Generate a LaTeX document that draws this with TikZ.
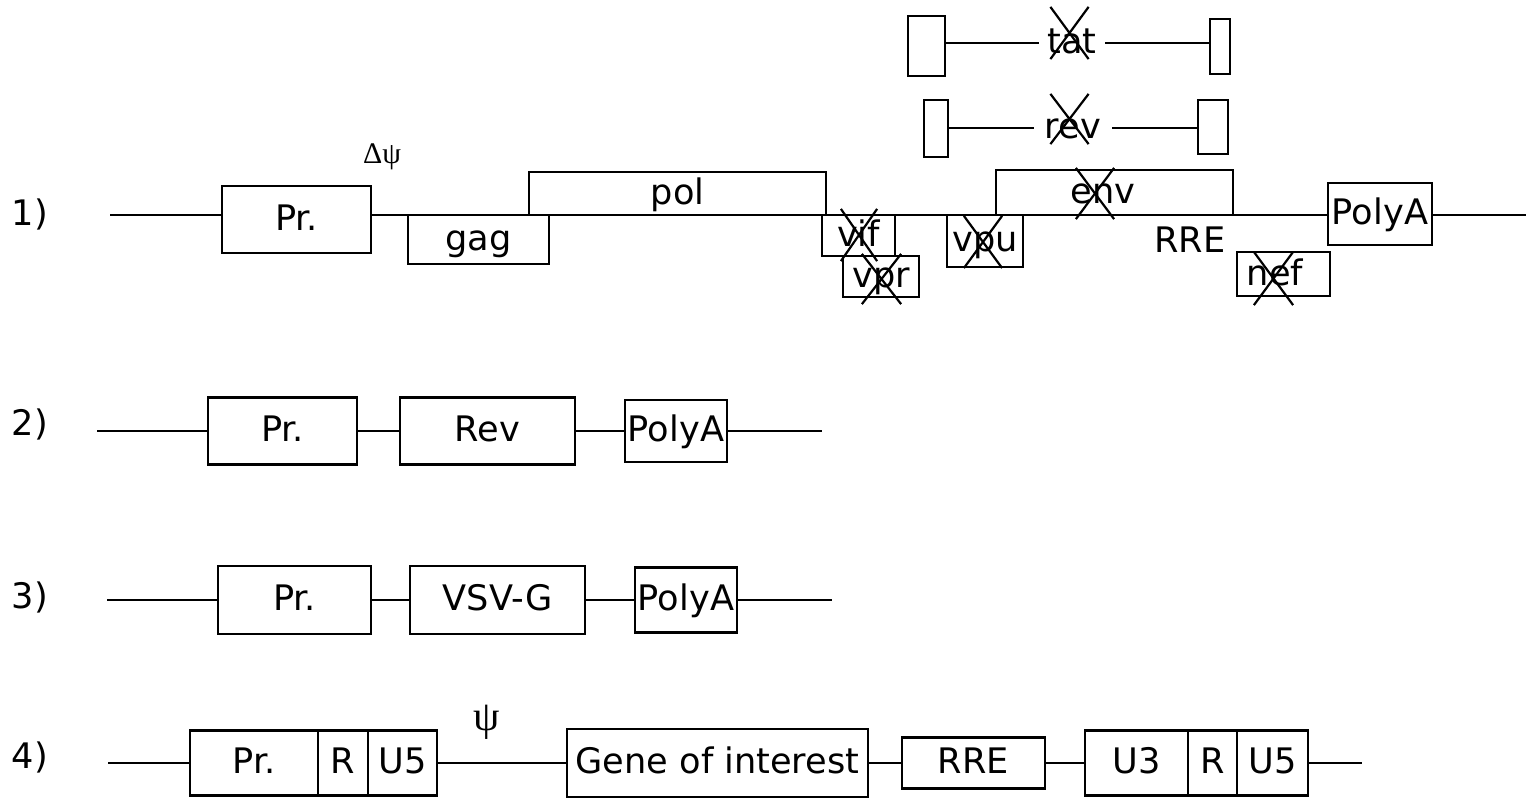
\documentclass[tikz,border=0pt]{standalone}
\usepackage{fontspec}
\setmainfont{DejaVu Sans}
\newfontfamily\greekfont{Liberation Serif}
\usetikzlibrary{shapes.misc}

\begin{document}
\begin{tikzpicture}[
    x=0.2mm,
    y=-0.2mm,
    line width=1.25pt,
    font=\fontsize{20}{24}\selectfont,
    segment/.style={
        draw,
        fill=white,
        inner sep=0pt,
        text height=14pt,
        text depth=2pt
    },
    plain/.style={
        inner sep=0pt,
        text height=14pt,
        text depth=2pt
    },
    rowlabel/.style={
        plain
    },
    deleted/.style={
        cross out,
        draw,
        inner sep=0pt,
        minimum width=7.2mm,
        minimum height=10mm
    }
]
    \path[use as bounding box,fill=white] (0,0) rectangle (1526,798);

    % 1) provirus
    \node[rowlabel] (num-1) at (30,215) {1)};
    \coordinate (r1-start) at (110,215);
    \coordinate (r1-end) at (1526,215);
    \draw (r1-start) -- (r1-end);

    \node[segment, minimum width=29.8mm, minimum height=13.4mm] (pr-1) at (296.5,219.5) {Pr.};
    \node[font=\greekfont\fontsize{17}{19}\selectfont] (dpsi) at (382,157) {Δψ};
    \node[segment, minimum width=28.2mm, minimum height=9.8mm] (gag) at (478.5,239.5) {gag};
    \node[segment, minimum width=59.4mm, minimum height=8.6mm] (pol) at (677.5,193.5) {pol};
    \node[segment, minimum width=14.6mm, minimum height=8.2mm] (vif) at (858.5,235.5) {vif};
    \node[segment, minimum width=15.2mm, minimum height=8.2mm] (vpr) at (881,276.5) {vpr};
    \node[segment, minimum width=15.2mm, minimum height=10.4mm] (vpu) at (985,241) {vpu};
    \node[segment, minimum width=47.4mm, minimum height=9mm] (env) at (1114.5,192.5) {};
    \node[plain] (env-text) at (1103,193) {env};
    \node[plain] (rre-1) at (1190,242) {RRE};
    \node[segment, minimum width=18.6mm, minimum height=8.8mm] (nef) at (1283.5,274) {};
    \node[plain] (nef-text) at (1275,275) {nef};
    \node[segment, minimum width=20.8mm, minimum height=12.4mm] (polya-1) at (1380,214) {PolyA};

    % spliced tat and rev
    \node[segment, minimum width=7.4mm, minimum height=12mm] (tat-l) at (926.5,46) {};
    \node[segment, minimum width=4mm, minimum height=11mm] (tat-r) at (1220,46.5) {};
    \node[plain, inner xsep=1.5mm] (tat) at (1072,43) {tat};
    \draw (tat-l.east |- tat) -- (tat);
    \draw (tat) -- (tat -| tat-r.west);

    \node[segment, minimum width=4.8mm, minimum height=11.4mm] (rev-l) at (936,128.5) {};
    \node[segment, minimum width=6mm, minimum height=10.8mm] (rev-r) at (1213,127) {};
    \node[plain, inner xsep=2mm] (rev) at (1073,128) {rev};
    \draw (rev-l.east |- rev) -- (rev);
    \draw (rev) -- (rev -| rev-r.west);

    % crossed out genes
    \node[deleted] (tat-x) at (1069.5,33) {};
    \node[deleted, minimum height=9.6mm] (rev-x) at (1069.5,119) {};
    \node[deleted, minimum width=6.8mm] (vif-x) at (859,235) {};
    \node[deleted, minimum width=7.4mm, minimum height=9.6mm] (vpr-x) at (881.5,279) {};
    \node[deleted] (vpu-x) at (983,242) {};
    \node[deleted, minimum height=9.8mm] (env-x) at (1095,193.5) {};
    \node[deleted, minimum width=7.4mm, minimum height=10.2mm] (nef-x) at (1273.5,278.5) {};

    % 2) rev plasmid
    \node[rowlabel] (num-2) at (30,425) {2)};
    \coordinate (r2-start) at (97,431);
    \node[segment, minimum width=29.8mm, minimum height=13.4mm] (pr-2) at (282.5,431) {Pr.};
    \node[segment, minimum width=35mm, minimum height=13.4mm] (rev-2) at (487.5,431) {Rev};
    \node[segment, minimum width=20.4mm, minimum height=12.4mm] (polya-2) at (676,431) {PolyA};
    \coordinate (r2-end) at (822,431);
    \draw (r2-start) -- (pr-2);
    \draw (pr-2) -- (rev-2);
    \draw (rev-2) -- (polya-2);
    \draw (polya-2) -- (r2-end);

    % 3) envelope plasmid
    \node[rowlabel] (num-3) at (30,598) {3)};
    \coordinate (r3-start) at (107,600);
    \node[segment, minimum width=30.6mm, minimum height=13.6mm] (pr-3) at (294.5,600) {Pr.};
    \node[segment, minimum width=35mm, minimum height=13.6mm] (vsvg) at (497.5,600) {VSV-G};
    \node[segment, minimum width=20.4mm, minimum height=13mm] (polya-3) at (686,600) {PolyA};
    \coordinate (r3-end) at (832,600);
    \draw (r3-start) -- (pr-3);
    \draw (pr-3) -- (vsvg);
    \draw (vsvg) -- (polya-3);
    \draw (polya-3) -- (r3-end);

    % 4) transfer vector
    \node[rowlabel] (num-4) at (30,758) {4)};
    \coordinate (r4-start) at (108,763);
    \node[segment, minimum width=25.6mm, minimum height=13mm] (pr-4) at (254,763) {Pr.};
    \node[segment, minimum width=10mm, minimum height=13mm] (r-4a) at (343,763) {R};
    \node[segment, minimum width=13.8mm, minimum height=13mm] (u5-4a) at (402.5,763) {U5};
    \node[font=\greekfont\fontsize{24}{26}\selectfont] (psi) at (487,722) {ψ};
    \node[segment, minimum width=60.2mm, minimum height=13.6mm] (gene) at (717.5,763) {Gene of interest};
    \node[segment, minimum width=28.6mm, minimum height=10.2mm] (rre-4) at (973.5,763) {RRE};
    \node[segment, minimum width=20.6mm, minimum height=13mm] (u3-4) at (1136.5,763) {U3};
    \node[segment, minimum width=9.8mm, minimum height=13mm] (r-4b) at (1212.5,763) {R};
    \node[segment, minimum width=14.2mm, minimum height=13mm] (u5-4b) at (1272.5,763) {U5};
    \coordinate (r4-end) at (1362,763);
    \draw (r4-start) -- (pr-4);
    \draw (u5-4a) -- (gene);
    \draw (gene) -- (rre-4);
    \draw (rre-4) -- (u3-4);
    \draw (u5-4b) -- (r4-end);
\end{tikzpicture}
\end{document}
